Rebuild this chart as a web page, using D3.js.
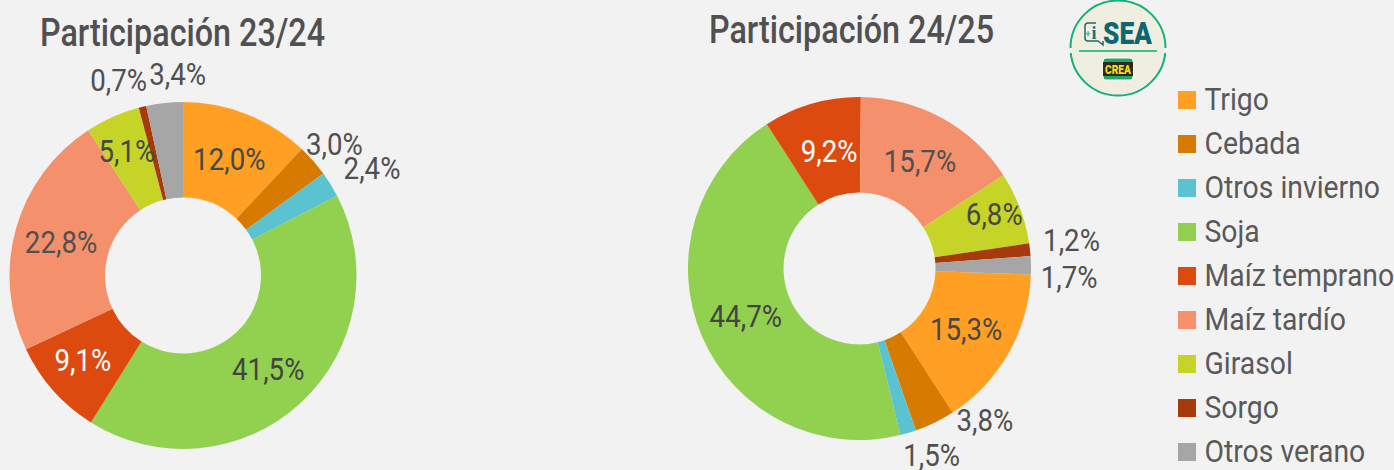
<!DOCTYPE html>
<html><head><meta charset="utf-8">
<script src="https://cdn.jsdelivr.net/npm/d3@7/dist/d3.min.js"></script>
<style>html,body{margin:0;padding:0;background:#f2f2f2}svg{display:block}text{font-family:Roboto,sans-serif}</style>
</head><body><svg id="c" width="1394" height="470"></svg>
<script>
const categories=["Trigo","Cebada","Otros invierno","Soja","Maíz temprano","Maíz tardío","Girasol","Sorgo","Otros verano"];
const colors=["#FFA024","#D67B00","#5BC3D0","#92D050","#DD4A10","#F4906B","#C5D426","#A63A0B","#A6A6A6"];
const labelColors=["#484848","#505050","#505050","#444444","#ffffff","#505050","#484848","#505050","#505050"];
const values2324=[12.0,3.0,2.4,41.5,9.1,22.8,5.1,0.7,3.4];
const values2425=[15.3,3.8,1.5,44.7,9.2,15.7,6.8,1.2,1.7];
const offsets2324=[[0,1],[57,-48],[82,-41],[0,2],[-6,2],[-1,2],[-5,-9],[-35,-72],[8,-76]];
const offsets2425=[[-1,0],[71,41],[37,69],[0,-1],[4,2],[1,2],[19,-10],[89,-14],[86,12]];
const svg=d3.select("#c");
const fmt=v=>v.toFixed(1).replace(".",",")+"%";
function squeezed(g,x,y,str,size,fill,anchor,sx,weight){
  return g.append("text").attr("transform",`translate(${x},${y}) scale(${sx},1)`)
    .attr("font-size",size).attr("fill",fill).attr("font-weight",weight||400).attr("text-anchor",anchor||"start").text(str);
}
function donut(opts){
  const g=svg.append("g").attr("transform",`translate(${opts.cx},${opts.cy})`);
  const turn=opts.rotation*2*Math.PI;
  const pie=d3.pie().sort(null).startAngle(turn).endAngle(turn+2*Math.PI);
  const arc=d3.arc().innerRadius(opts.r0).outerRadius(opts.r1);
  const arcs=pie(opts.values);
  g.selectAll("path").data(arcs).join("path").attr("d",arc).attr("fill",(d,i)=>colors[i]);
  arcs.forEach((d,i)=>{
    const [x,y]=arc.centroid(d);
    squeezed(g,x+opts.offsets[i][0],y+opts.offsets[i][1],fmt(d.data),opts.labelSize,labelColors[i],"middle",0.865).attr("dy","0.32em");
  });
  squeezed(svg,opts.tx,opts.ty,opts.title,38,"#505050","start",0.85,500);
}
donut({cx:183,cy:275.5,r0:78,r1:173.5,rotation:0,values:values2324,offsets:offsets2324,labelSize:32,title:"Participación 23/24",tx:40,ty:46});
donut({cx:859.5,cy:268.5,r0:76,r1:171.5,rotation:0.2555,values:values2425,offsets:offsets2425,labelSize:32,title:"Participación 24/25",tx:709,ty:43});
// legend
const y=d3.scalePoint().domain(categories).range([99,451]);
const lg=svg.append("g");
categories.forEach((c,i)=>{
  lg.append("rect").attr("x",1178).attr("y",y(c)-8).attr("width",18).attr("height",18).attr("fill",colors[i]);
  squeezed(lg,1204.5,y(c),c,32,"#595959","start",0.886).attr("dy","0.35em");
});
// logo
const l=svg.append("g").attr("transform","translate(1118,48)");
l.append("circle").attr("r",47.5).attr("fill","#f0eee1").attr("stroke","#14b07a").attr("stroke-width",2);
l.append("rect").attr("x",-52).attr("y",0).attr("width",6).attr("height",5).attr("fill","#f2f2f2");
l.append("rect").attr("x",46).attr("y",0).attr("width",6).attr("height",5).attr("fill","#f2f2f2");
l.append("rect").attr("x",-39).attr("y",2).attr("width",78).attr("height",2).attr("fill","#3fbf8a");
l.append("path").attr("d","M-22,-25 H-30 Q-33,-25 -33,-22 V-10 Q-33,-7 -30,-7 H-20 L-15,-3 V-7").attr("fill","none").attr("stroke","#1f6b70").attr("stroke-width",1.5);
l.append("text").attr("x",-24).attr("y",-9).attr("font-size",18).attr("font-weight",700).attr("text-anchor","middle").attr("fill","#1f6b70").style("font-family","'Liberation Serif'").text("i");
l.append("text").attr("x",-30).attr("y",-11).attr("font-size",9).attr("font-weight",700).attr("text-anchor","middle").attr("fill","#3fbf8a").text("+");
l.append("text").attr("x",-15).attr("y",-4).attr("font-size",32).attr("font-weight",900).attr("fill","#0f6670").attr("textLength",49).attr("lengthAdjust","spacingAndGlyphs").text("SEA");
l.append("rect").attr("x",-15).attr("y",10).attr("width",30).attr("height",22).attr("rx",3).attr("fill","#1fa866").attr("stroke","#fff").attr("stroke-width",1);
l.append("rect").attr("x",-15).attr("y",14).attr("width",30).attr("height",14).attr("fill","#2b2b22");
l.append("text").attr("x",0).attr("y",26).attr("font-size",13).attr("font-weight",900).attr("text-anchor","middle").attr("fill","#f4dc1e").attr("textLength",26).attr("lengthAdjust","spacingAndGlyphs").text("CREA");
</script></body></html>
